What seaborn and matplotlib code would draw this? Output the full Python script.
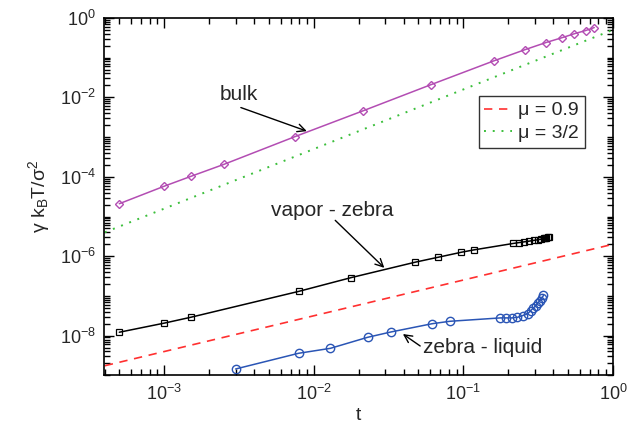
import matplotlib
matplotlib.use("Agg")
import matplotlib.pyplot as plt
import matplotlib.ticker as mticker
import seaborn as sns
import pandas as pd

# bulk (magenta diamonds)
bulk_t = [5.0e-4, 1.0e-3, 1.5e-3, 2.5e-3, 7.45e-3, 0.0214, 0.061, 0.16,
          0.26, 0.357, 0.46, 0.553, 0.656, 0.75]
bulk_g = [2.1e-5, 5.8e-5, 1.02e-4, 2.05e-4, 1.02e-3, 4.6e-3, 0.021, 0.083,
          0.16, 0.24, 0.32, 0.40, 0.48, 0.57]

# vapor - zebra (black squares)
vz_t = [5.0e-4, 1.0e-3, 1.5e-3, 7.9e-3, 0.0178, 0.0478, 0.0676, 0.097, 0.117,
        0.216, 0.235, 0.255, 0.276, 0.295, 0.315, 0.332, 0.344, 0.352, 0.359,
        0.366, 0.374]
vz_g = [1.22e-8, 2.07e-8, 2.9e-8, 1.3e-7, 2.9e-7, 7.1e-7, 9.4e-7, 1.26e-6, 1.44e-6,
        2.1e-6, 2.2e-6, 2.3e-6, 2.4e-6, 2.5e-6, 2.6e-6, 2.7e-6, 2.8e-6, 2.85e-6, 2.9e-6,
        3.0e-6, 3.1e-6]

# zebra - liquid (blue circles)
zl_t = [3.0e-3, 7.9e-3, 0.0129, 0.0229, 0.0328, 0.0618, 0.081, 0.177, 0.194,
        0.211, 0.230, 0.249, 0.270, 0.282, 0.294, 0.305, 0.314, 0.324, 0.334, 0.343]
zl_g = [1.45e-9, 3.6e-9, 4.8e-9, 9.1e-9, 1.24e-8, 2.0e-8, 2.3e-8, 2.8e-8, 2.8e-8,
        2.8e-8, 2.9e-8, 3.2e-8, 3.6e-8, 4.3e-8, 5.0e-8, 5.7e-8, 6.6e-8, 7.6e-8,
        8.7e-8, 1.03e-7]

# power-law guide lines (end points)
mu09_t = [4.0e-4, 1.0]
mu09_g = [1.75e-9, 2.0e-6]
mu15_t = [4.0e-4, 1.0]
mu15_g = [4.0e-6, 0.5]

sns.set_style("ticks")
plt.rcParams['font.family'] = ['Liberation Sans', 'DejaVu Sans']
plt.rcParams['mathtext.fontset'] = 'custom'
plt.rcParams['mathtext.rm'] = 'Liberation Sans'
plt.rcParams['mathtext.it'] = 'Liberation Sans'
plt.rcParams['mathtext.bf'] = 'Liberation Sans:bold'

fig = plt.figure(figsize=(6.28, 4.30), dpi=100)
ax = fig.add_axes([0.1664, 0.127, 0.8096, 0.8314])

magenta = '#b34db3'
blue = '#2a55b5'

sns.lineplot(x=mu09_t, y=mu09_g, ax=ax, color='#ff3030', lw=1.2,
             linestyle=(0, (5, 4)), label='μ = 0.9', sort=False, estimator=None)
sns.lineplot(x=mu15_t, y=mu15_g, ax=ax, color='#3cbf3c', lw=1.4,
             linestyle=(0, (1, 3.5)), label='μ = 3/2', sort=False, estimator=None)

sns.lineplot(x=bulk_t, y=bulk_g, ax=ax, color=magenta, lw=1.1, marker='D', ms=4.5,
             markerfacecolor='none', markeredgecolor=magenta, mew=1.0,
             sort=False, estimator=None, legend=False)
sns.lineplot(x=vz_t, y=vz_g, ax=ax, color='black', lw=1.1, marker='s', ms=5,
             markerfacecolor='none', markeredgecolor='black', mew=0.9,
             sort=False, estimator=None, legend=False)
sns.lineplot(x=zl_t, y=zl_g, ax=ax, color=blue, lw=1.1, marker='o', ms=6,
             markerfacecolor='none', markeredgecolor=blue, mew=1.0,
             sort=False, estimator=None, legend=False)

ax.set_xscale('log')
ax.set_yscale('log')
ax.set_xlim(10 ** -3.4, 1.0)
ax.set_ylim(1e-9, 1.0)

ax.xaxis.set_major_locator(mticker.LogLocator(base=10, numticks=10))
ax.xaxis.set_minor_locator(mticker.LogLocator(base=10, subs=range(2, 10), numticks=20))
ax.yaxis.set_major_locator(mticker.FixedLocator([1e-8, 1e-6, 1e-4, 1e-2, 1e0]))
ax.yaxis.set_minor_locator(mticker.LogLocator(base=10, subs=range(1, 10), numticks=30))
ax.xaxis.set_minor_formatter(mticker.NullFormatter())
ax.yaxis.set_minor_formatter(mticker.NullFormatter())

ax.tick_params(which='both', direction='in', top=True, right=True, labelsize=13,
               color='black', width=1.0)
ax.tick_params(which='major', length=7, pad=6)
ax.tick_params(which='minor', length=4)
for s in ax.spines.values():
    s.set_linewidth(1.2)
    s.set_color('black')

ax.set_xlabel('t', fontsize=14, labelpad=2)
ax.set_ylabel(r'$\mathrm{\gamma\ k_B T/\sigma^2}$', fontsize=14, labelpad=6)

arrow = dict(arrowstyle='->', color='black', lw=1.0, mutation_scale=14,
             shrinkA=0, shrinkB=0)
ax.text(3.13e-3, 1.17e-2, 'bulk', fontsize=15, ha='center', va='center')
ax.annotate('', xy=(8.97e-3, 1.41e-3), xytext=(3.25e-3, 5.53e-3), arrowprops=arrow)
ax.text(0.0132, 1.45e-5, 'vapor - zebra', fontsize=15, ha='center', va='center')
ax.annotate('', xy=(0.0296, 5.1e-7), xytext=(0.0139, 8.0e-6), arrowprops=arrow)
ax.text(0.135, 5.0e-9, 'zebra - liquid', fontsize=15, ha='center', va='center')
ax.annotate('', xy=(0.0394, 1.1e-8), xytext=(0.0514, 5.5e-9), arrowprops=arrow)

leg = ax.legend(loc='upper right', bbox_to_anchor=(0.945, 0.7815), fontsize=14,
                frameon=True, fancybox=False, handlelength=1.4, handletextpad=0.35,
                borderpad=0.3, labelspacing=0.25, borderaxespad=0)
leg.get_frame().set_edgecolor('black')
leg.get_frame().set_linewidth(1.0)

fig.savefig('out.png', dpi=100)
